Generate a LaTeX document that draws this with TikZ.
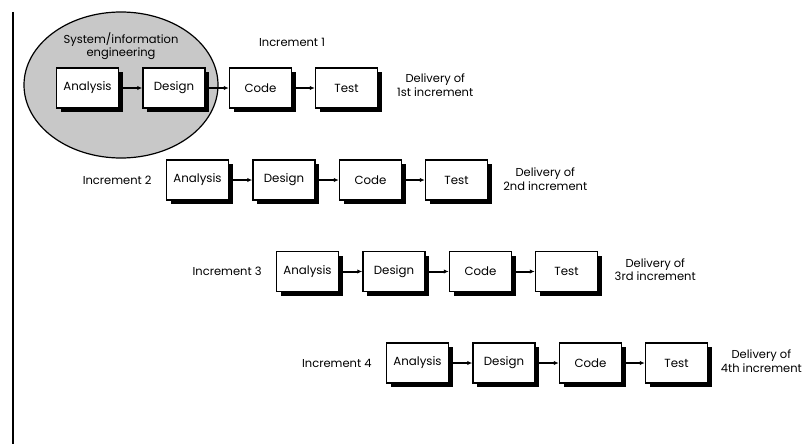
\documentclass[tikz,border=0pt]{standalone}
\usepackage{fontspec}
\setmainfont{Poppins}
\usetikzlibrary{shadows,arrows.meta,shapes.geometric}
\definecolor{ellgray}{RGB}{200,200,200}
\begin{document}
\begin{tikzpicture}[x=1pt,y=-1pt,
  txt/.style={font=\fontsize{11.5}{13.5}\selectfont, inner sep=0pt, align=center},
  stepbox/.style={draw=black, line width=1.5pt, fill=white, minimum width=62pt, minimum height=40pt, inner sep=0pt,
    font=\fontsize{11.8}{13}\selectfont,
    drop shadow={shadow xshift=4pt, shadow yshift=-4pt, fill=black, opacity=1}},
  flow/.style={line width=2pt, -{Latex[length=5pt,width=4.5pt]}, shorten <=0pt},
]
\useasboundingbox (0,0) rectangle (803,444);
\coordinate (vtop) at (13,12);
\coordinate (vbot) at (13,444);
\draw[line width=2pt] (vtop) -- (vbot);

\node[ellipse, draw=black, line width=1.2pt, fill=ellgray, minimum width=194pt, minimum height=146pt, inner sep=0pt] (sys) at (121,85) {};
\node[txt] (syslbl) at (121,46) {System/information\\engineering};

\foreach \r/\ax/\y in {1/87.5/88, 2/197.5/180, 3/307.5/271.5, 4/417.5/363} {
  \node[stepbox] (a\r) at (\ax,\y) {Analysis};
  \node[stepbox] (d\r) at (\ax+86.5,\y) {Design};
  \node[stepbox] (c\r) at (\ax+173,\y) {Code};
  \node[stepbox] (t\r) at (\ax+259,\y) {Test};
  \draw[flow] (a\r) -- (d\r);
  \draw[flow] (d\r) -- (c\r);
  \draw[flow] (c\r) -- (t\r);
}
\node[txt] (inc1) at (292,42) {Increment 1};
\node[txt, anchor=east] (inc2) at ([xshift=-14pt]a2.west) {Increment 2};
\node[txt, anchor=east] (inc3) at ([xshift=-14pt]a3.west) {Increment 3};
\node[txt, anchor=east] (inc4) at ([xshift=-14pt]a4.west) {Increment 4};

\node[txt] (del1) at ([xshift=57pt,yshift=3pt]t1.east) {Delivery of\\1st increment};
\node[txt] (del2) at ([xshift=57pt,yshift=1pt]t2.east) {Delivery of\\2nd increment};
\node[txt] (del3) at ([xshift=57pt,yshift=2pt]t3.east) {Delivery of\\3rd increment};
\node[txt, anchor=east] (del4) at ([yshift=2pt]802,363) {Delivery of\\4th increment};
\end{tikzpicture}
\end{document}
